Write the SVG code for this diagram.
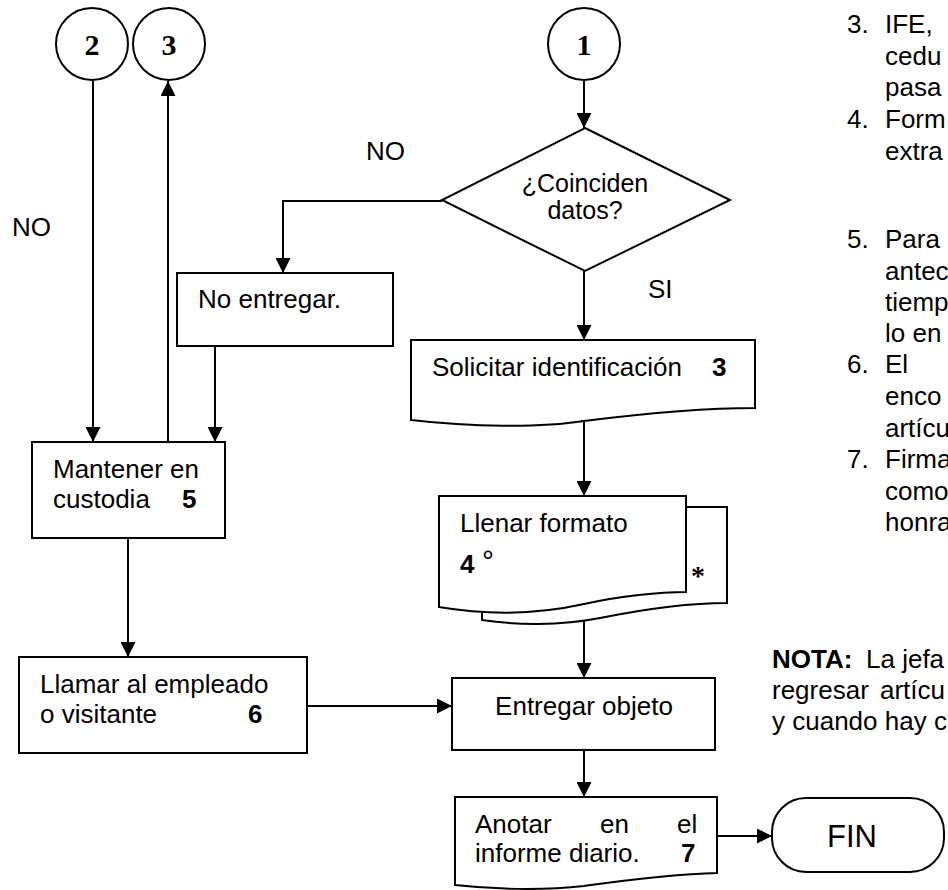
<svg xmlns="http://www.w3.org/2000/svg" width="948" height="890" viewBox="0 0 948 890">
<defs>
<style>
.s{fill:#fff;stroke:#000;stroke-width:2}
.t{font-family:"Liberation Sans",Arial,sans-serif;font-size:26px;fill:#000}
.b{font-weight:bold}
.m{text-anchor:middle}
.n{font-family:"Liberation Serif","Times New Roman",serif;font-size:30px;font-weight:bold;text-anchor:middle;fill:#000}
.c{fill:none;stroke:#000;stroke-width:2}
</style>
<marker id="a" markerUnits="userSpaceOnUse" markerWidth="15" markerHeight="15" viewBox="0 0 15 15" refX="15" refY="7.5" orient="auto"><path d="M0,0L15,7.5L0,15z" fill="#000"/></marker>
</defs>
<rect width="948" height="890" fill="#fff"/>

<g id="connectors" class="c">
<path d="M93,81V442" marker-end="url(#a)"/>
<path d="M168,442V81" marker-end="url(#a)"/>
<path d="M584,81V128" marker-end="url(#a)"/>
<path d="M442,201H283V273" marker-end="url(#a)"/>
<path d="M215,346V442" marker-end="url(#a)"/>
<path d="M584,271V340" marker-end="url(#a)"/>
<path d="M584,421V496" marker-end="url(#a)"/>
<path d="M128,538V657" marker-end="url(#a)"/>
<path d="M307,706H452" marker-end="url(#a)"/>
<path d="M584,604V678" marker-end="url(#a)"/>
<path d="M584,750V797" marker-end="url(#a)"/>
<path d="M717,836H772" marker-end="url(#a)"/>
</g>

<g id="c2"><circle class="s" cx="92" cy="44" r="36"/><text class="n" x="92" y="55">2</text></g>
<g id="c3"><circle class="s" cx="169" cy="44" r="36"/><text class="n" x="169" y="55">3</text></g>
<g id="c1"><circle class="s" cx="584" cy="44" r="36"/><text class="n" x="584" y="55">1</text></g>

<g id="decision">
<path class="s" d="M585,128L730,200L585,271L442,200Z"/>
<text class="t m" x="585" y="192" style="font-size:25px">¿Coinciden</text>
<text class="t m" x="585" y="219" style="font-size:25px">datos?</text>
</g>
<text class="t" x="366" y="160">NO</text>
<text class="t" x="12" y="236">NO</text>
<text class="t" x="648" y="298">SI</text>

<g id="noentregar">
<rect class="s" x="177" y="273" width="216" height="73"/>
<text class="t" x="198" y="308">No entregar.</text>
</g>

<g id="solicitar">
<path class="s" d="M411,340H755V408C700,408 640,414 584,421C540,428 470,427 411,420Z"/>
<text class="t" x="432" y="376">Solicitar identificación</text>
<text class="t b" x="712" y="376">3</text>
</g>

<g id="mantener">
<rect class="s" x="32" y="442" width="193" height="96"/>
<text class="t" x="53" y="478">Mantener en</text>
<text class="t" x="53" y="508">custodia</text>
<text class="t b" x="182" y="508">5</text>
</g>

<g id="llenar">
<path class="s" d="M482,507H727V603C690,603 640,610 600,618C560,626 515,625 482,620Z"/>
<path class="s" d="M439,496H686V592C660,592 620,596 584,604C530,616 480,614 439,607Z"/>
<text class="t" x="460" y="532">Llenar formato</text>
<text class="t b" x="460" y="573">4</text>
<text class="t" x="482" y="571" style="font-size:30px">°</text>
<text x="691" y="585" style="font-family:'Liberation Serif',serif;font-size:28px;font-weight:bold">*</text>
</g>

<g id="llamar">
<rect class="s" x="19" y="657" width="288" height="96"/>
<text class="t" x="40" y="693">Llamar al empleado</text>
<text class="t" x="40" y="723">o visitante</text>
<text class="t b" x="248" y="723">6</text>
</g>

<g id="entregar">
<rect class="s" x="452" y="678" width="263" height="72"/>
<text class="t m" x="584" y="715">Entregar objeto</text>
</g>

<g id="anotar">
<path class="s" d="M455,797H717V873C670,874 620,881 584,886C540,891 490,889 455,885Z"/>
<text class="t" y="833"><tspan x="475">Anotar</tspan><tspan x="600">en</tspan><tspan x="677">el</tspan></text>
<text class="t" x="475" y="862">informe diario.</text>
<text class="t b" x="681" y="862">7</text>
</g>

<g id="fin">
<rect class="s" x="772" y="798" width="172" height="74" rx="34"/>
<text class="t m" x="852" y="847" style="font-size:31px">FIN</text>
</g>

<g id="notes" class="t">
<text x="847" y="33">3.</text><text x="885" y="33">IFE,</text>
<text x="885" y="65">cedu</text>
<text x="885" y="96">pasa</text>
<text x="847" y="128">4.</text><text x="885" y="128">Form</text>
<text x="885" y="160">extra</text>
<text x="847" y="248">5.</text><text x="885" y="248">Para</text>
<text x="885" y="280">antec</text>
<text x="885" y="311">tiemp</text>
<text x="885" y="342">lo en</text>
<text x="847" y="373">6.</text><text x="885" y="373">El</text>
<text x="885" y="405">enco</text>
<text x="885" y="437">artícu</text>
<text x="847" y="468">7.</text><text x="885" y="468">Firma</text>
<text x="885" y="500">como</text>
<text x="885" y="531">honra</text>
</g>

<g id="nota" class="t">
<text y="668"><tspan x="772" class="b">NOTA:</tspan><tspan x="866">La jefa</tspan></text>
<text y="699"><tspan x="772">regresar</tspan><tspan x="880">artícu</tspan></text>
<text x="772" y="730">y cuando hay c</text>
</g>
</svg>
